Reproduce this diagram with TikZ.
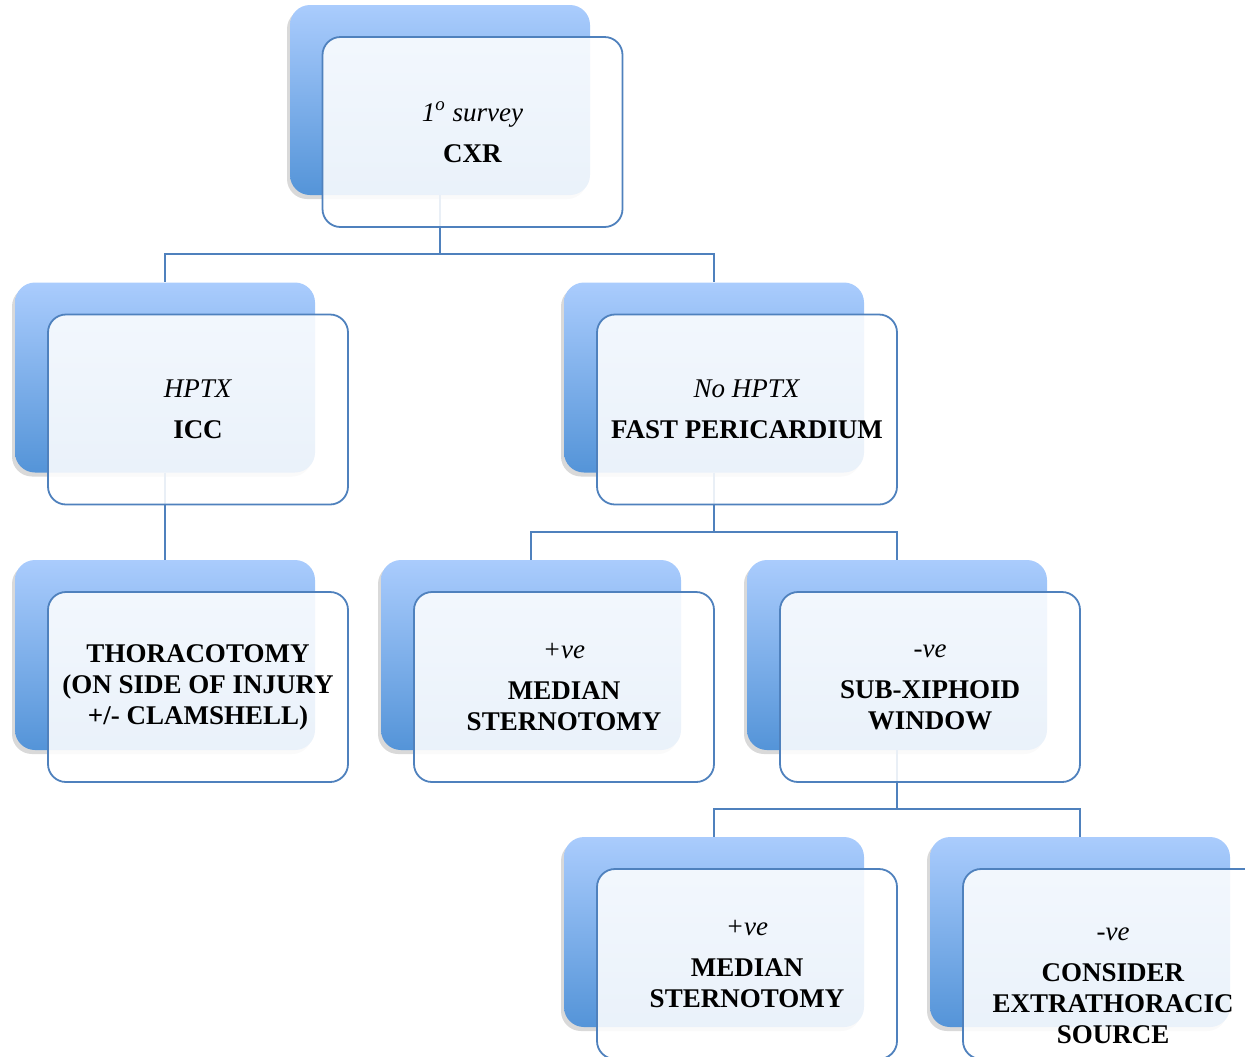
\documentclass[tikz,border=0pt]{standalone}
\usepackage{fontspec}
\setmainfont{Liberation Serif}
\usetikzlibrary{calc,positioning,shadows}
\definecolor{boxtop}{RGB}{170,204,253}
\definecolor{boxbot}{RGB}{84,148,216}
\definecolor{linkblue}{RGB}{79,129,189}

\begin{document}
\begin{tikzpicture}[x=0.5pt,y=-0.5pt,
  backbox/.style={rectangle,rounded corners=10pt,minimum width=150pt,minimum height=95pt,
    top color=boxtop,bottom color=boxbot,
    drop shadow={shadow xshift=-1.5pt,shadow yshift=-2pt,opacity=.3}},
  frontbox/.style={rectangle,rounded corners=9pt,minimum width=150pt,minimum height=95pt,
    draw=linkblue,line width=0.9pt,fill=white,fill opacity=.88,text opacity=1,
    align=center,font=\fontsize{13.5}{15.5}\selectfont},
  link/.style={draw=linkblue,line width=1pt}]
\useasboundingbox (0,0) rectangle (1245,1056);
\clip (0,0) rectangle (1245,1056);
% back boxes
\node[backbox] (cxr) at (440,100) {};
\node[backbox] (icc) at (165,377.5) {};
\node[backbox] (fast) at (714,377.5) {};
\node[backbox] (thor) at (165,655) {};
\node[backbox] (pos) at (531,655) {};
\node[backbox] (neg) at (897,655) {};
\node[backbox] (pos2) at (714,932) {};
\node[backbox] (cons) at (1080,932) {};
% connectors
\foreach \a/\b in {cxr/icc,cxr/fast,icc/thor,fast/pos,fast/neg,neg/pos2,neg/cons}
  \draw[link] (\a.south) |- ($(\b.north)+(0,-28)$) -- (\b.north);
% front boxes
\node[frontbox] (cxr-f) at ($(cxr)+(32.5,32)$) {\textit{1\textsuperscript{o} survey}\\[5pt]\textbf{CXR}};
\node[frontbox] (icc-f) at ($(icc)+(33,32)$) {\textit{HPTX}\\[5pt]\textbf{ICC}};
\node[frontbox] (fast-f) at ($(fast)+(33,32)$) {\textit{No HPTX}\\[5pt]\textbf{FAST PERICARDIUM}};
\node[frontbox] (thor-f) at ($(thor)+(33,32)$) {\textbf{THORACOTOMY}\\\textbf{(ON SIDE OF INJURY}\\\textbf{+/- CLAMSHELL)}};
\node[frontbox] (pos-f) at ($(pos)+(33,32)$) {\textit{+ve}\\[5pt]\textbf{MEDIAN}\\\textbf{STERNOTOMY}};
\node[frontbox] (neg-f) at ($(neg)+(33,32)$) {\textit{-ve}\\[5pt]\textbf{SUB-XIPHOID}\\\textbf{WINDOW}};
\node[frontbox] (pos2-f) at ($(pos2)+(33,32)$) {\textit{+ve}\\[5pt]\textbf{MEDIAN}\\\textbf{STERNOTOMY}};
\node[frontbox] (cons-f) at ($(cons)+(33,32)$) {};
\node[align=center,font=\fontsize{13.5}{15.5}\selectfont] (cons-t) at ($(cons-f)+(0,22)$)
  {\textit{-ve}\\[5pt]\textbf{CONSIDER}\\\textbf{EXTRATHORACIC}\\\textbf{SOURCE}};
\end{tikzpicture}
\end{document}
